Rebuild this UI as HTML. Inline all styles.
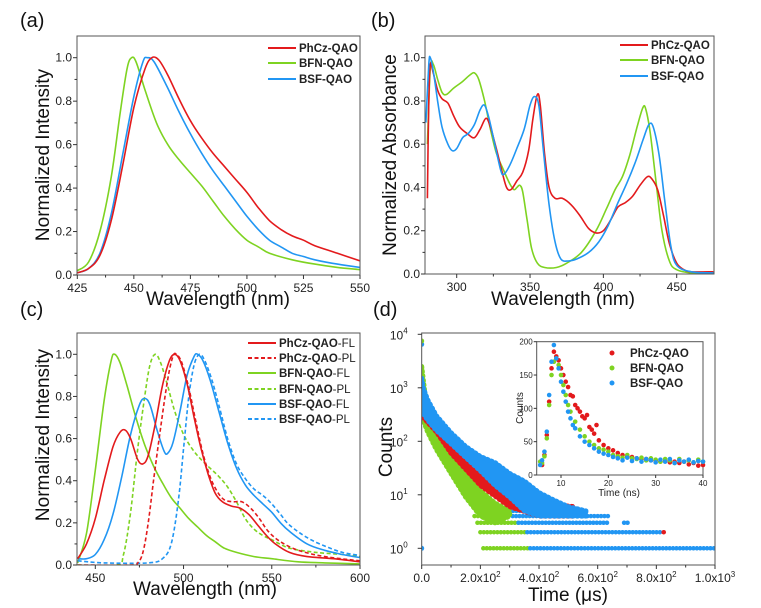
<!DOCTYPE html>
<html><head><meta charset="utf-8">
<style>
html,body{margin:0;padding:0;background:#fff;}
svg{display:block;font-family:"Liberation Sans",Arial,sans-serif;}
</style></head>
<body>
<svg id="fig" width="761" height="608" viewBox="0 0 761 608"></svg>
<script>
// ---------- Panel (a) data ----------
const aRedX=[425,430,435,440,445,450,455,458,461,465,470,475,480,485,490,495,500,505,510,515,520,525,530,540,550];
const aRedY=[0.01,0.03,0.09,0.25,0.5,0.77,0.95,1.0,0.99,0.92,0.81,0.71,0.63,0.56,0.5,0.44,0.38,0.31,0.25,0.21,0.18,0.16,0.135,0.1,0.065];
const aBlueX=[425,430,435,440,445,450,454,456,459,465,470,475,480,485,490,495,500,505,510,515,520,525,530,540,550];
const aBlueY=[0.01,0.03,0.1,0.28,0.55,0.82,0.98,1.0,0.98,0.86,0.75,0.65,0.56,0.48,0.41,0.34,0.27,0.21,0.16,0.13,0.1,0.085,0.07,0.05,0.035];
const aGreenX=[425,430,435,440,444,447,449,451,455,460,465,470,475,480,485,490,495,500,505,510,520,530,540,550];
const aGreenY=[0.02,0.06,0.2,0.45,0.75,0.95,1.0,0.98,0.85,0.7,0.6,0.53,0.47,0.41,0.34,0.27,0.21,0.16,0.13,0.1,0.07,0.05,0.035,0.025];
// ---------- Panel (b) data ----------
const bRedX=[280,281,282,284,287,290,294,298,302,307,312,316,320,323,327,331,334,337,341,345,349,352,355,357,360,363,367,372,378,384,390,395,400,405,410,415,420,425,430,433,437,441,445,450,455,460,475];
const bRedY=[0.35,0.8,0.97,0.93,0.85,0.81,0.79,0.73,0.68,0.65,0.63,0.67,0.72,0.68,0.58,0.47,0.4,0.39,0.43,0.47,0.57,0.72,0.83,0.78,0.55,0.4,0.35,0.35,0.32,0.27,0.21,0.19,0.2,0.25,0.31,0.33,0.36,0.41,0.45,0.44,0.39,0.27,0.14,0.05,0.02,0.01,0.01];
const bGreenX=[280,282,284,287,290,293,298,304,309,312,315,319,323,327,332,336,339,341,343,345,348,351,355,360,368,375,385,395,402,408,413,418,423,427,429,432,436,440,445,450,460,475];
const bGreenY=[0.6,0.95,0.97,0.9,0.84,0.83,0.86,0.89,0.92,0.93,0.9,0.8,0.67,0.56,0.48,0.42,0.39,0.4,0.41,0.38,0.25,0.12,0.05,0.03,0.03,0.05,0.1,0.2,0.3,0.39,0.45,0.55,0.68,0.77,0.76,0.65,0.42,0.2,0.06,0.02,0.005,0.005];
const bBlueX=[279,281,282,284,287,290,294,297,300,304,308,312,316,319,322,326,330,332,336,341,346,350,353,356,359,363,367,371,376,382,390,397,403,410,416,422,427,431,434,438,442,446,450,460,475];
const bBlueY=[0.7,0.97,1.0,0.94,0.8,0.68,0.6,0.57,0.58,0.63,0.65,0.69,0.76,0.78,0.72,0.6,0.48,0.46,0.5,0.58,0.67,0.78,0.82,0.78,0.58,0.32,0.15,0.07,0.06,0.07,0.1,0.15,0.22,0.33,0.42,0.52,0.62,0.69,0.68,0.55,0.33,0.13,0.04,0.01,0.005];
// ---------- Panel (c) data ----------
const cRedFLX=[440,445,450,455,460,464,467,470,474,477,480,484,488,492,495,498,502,506,510,514,518,522,527,532,537,542,547,552,560,570,585,600];
const cRedFLY=[0.03,0.1,0.22,0.4,0.56,0.63,0.64,0.6,0.5,0.48,0.52,0.67,0.85,0.97,1.0,0.97,0.86,0.7,0.55,0.43,0.34,0.3,0.28,0.27,0.24,0.19,0.14,0.1,0.06,0.04,0.03,0.015];
const cRedPLX=[440,470,474,477,480,483,487,491,494,496,499,503,507,511,515,519,523,528,533,538,543,548,555,565,580,600];
const cRedPLY=[0,0,0.01,0.06,0.2,0.4,0.65,0.88,0.99,1.0,0.96,0.84,0.68,0.53,0.42,0.35,0.31,0.3,0.3,0.27,0.22,0.16,0.11,0.07,0.04,0.02];
const cGreenFLX=[440,445,450,455,459,461,464,468,473,478,483,488,493,498,503,508,513,518,523,530,540,550,565,580,600];
const cGreenFLY=[0.01,0.15,0.45,0.78,0.97,1.0,0.96,0.85,0.7,0.57,0.47,0.39,0.32,0.27,0.22,0.18,0.14,0.11,0.08,0.06,0.04,0.03,0.015,0.01,0.005];
const cGreenPLX=[440,462,466,470,474,478,481,484,487,491,495,500,505,510,515,520,525,530,535,540,545,550,560,575,590,600];
const cGreenPLY=[0,0,0.05,0.25,0.55,0.8,0.95,1.0,0.96,0.85,0.73,0.62,0.55,0.5,0.46,0.42,0.37,0.3,0.22,0.17,0.14,0.12,0.08,0.06,0.05,0.04];
const cBlueFLX=[440,445,450,455,460,465,470,475,478,481,485,489,491,494,498,502,506,508,511,515,520,525,530,535,540,545,550,555,560,570,580,590,600];
const cBlueFLY=[0.03,0.03,0.05,0.12,0.24,0.42,0.62,0.76,0.79,0.76,0.64,0.54,0.53,0.58,0.73,0.9,0.99,1.0,0.97,0.88,0.73,0.58,0.46,0.38,0.33,0.29,0.25,0.2,0.16,0.1,0.07,0.05,0.035];
const cBluePLX=[440,455,480,488,493,497,500,503,506,509,512,516,520,525,530,535,540,545,550,555,560,570,580,590,600];
const cBluePLY=[0.02,0.01,0.01,0.03,0.1,0.3,0.55,0.8,0.95,1.0,0.97,0.88,0.76,0.6,0.48,0.41,0.36,0.33,0.29,0.24,0.19,0.13,0.09,0.06,0.045];
// ---------- Panel (d) data (decay bands, µs / counts) ----------
const dGreenT=[0,20,50,100,150,200,250,300];
const dGreenUp=[2500,300,150,60,25,12,7,5];
const dGreenLo=[300,150,70,25,9,4,3,4];
const dRedT=[0,50,100,200,300,400,520];
const dRedUp=[500,200,100,30,12,7,6];
const dRedLo=[300,150,60,15,6,4,4];
const dBlueT=[0,5,20,50,100,150,200,250,300,350,400,450,500,560];
const dBlueUp=[1500,1000,600,300,145,80,52,40,25,18,11,8,6,5];
const dBlueLo=[400,330,250,160,90,50,28,15,9,5,4,4,4,4];
// quantized count rows: [count, start µs, end µs]
const dGreenRows=[[1,210,370],[2,200,360],[3,190,330],[4,180,300]];
const dBlueRows=[[1,370,1000],[2,360,820],[3,330,640],[3,690,710],[4,310,640],[5,300,560]];
const dRedRows=[[2,825,832],[5,530,540]];
// inset (ns / counts)
const iRedT=[6,6.5,7,7.5,8,8.5,9,9.5,10,10.5,11,11.5,12,12.5,13,13.5,14,14.5,15,15.5,16,16.5,17,17.5,18,19,20,21,22,23,24,25,26,27,28,29,30,31,32,33,34,35,36,37,38,39,40];
const iRedC=[15,30,60,110,160,185,178,172,160,150,140,132,120,118,105,100,95,88,85,90,72,68,62,75,52,45,40,37,33,30,28,27,25,24,24,22,22,20,21,19,20,18,20,16,18,14,15];
const iGreenT=[5.6,6,6.5,7,7.5,8,8.5,9,9.5,10,10.5,11,11.5,12,13,14,15,16,17,18,19,20,21,22,23,24,25,26,27,28,29,30,31,32,33,34,35,36,37,38,39,40];
const iGreenC=[20,18,28,55,105,150,170,175,165,150,135,120,105,95,80,68,58,50,45,40,38,35,30,28,26,30,25,24,26,22,25,23,20,24,22,18,24,20,22,19,23,20];
const iBlueT=[5.6,6,6.5,7,7.5,8,8.5,9,9.5,10,10.5,11,11.5,12,12.5,13,14,15,16,17,18,19,20,21,22,23,24,25,26,27,28,29,30,31,32,33,34,35,36,37,38,39,40];
const iBlueC=[15,22,35,65,120,170,195,175,160,140,125,110,95,85,75,70,58,50,45,40,35,32,30,27,25,22,26,21,25,20,24,22,19,23,20,24,18,22,20,23,19,21,20];

const RED='#e31a1c', GREEN='#7ed321', BLUE='#2196f3';
const svg=document.getElementById('fig');
const NS='http://www.w3.org/2000/svg';
function mk(tag,attrs,parent){const e=document.createElementNS(NS,tag);for(const k in attrs)e.setAttribute(k,attrs[k]);(parent||svg).appendChild(e);return e;}
function txt(s,attrs,parent){const e=mk('text',attrs,parent);e.textContent=s;return e;}
function smooth(pts){let d='M'+pts[0][0].toFixed(1)+','+pts[0][1].toFixed(1);
 for(let i=0;i<pts.length-1;i++){const p0=pts[Math.max(0,i-1)],p1=pts[i],p2=pts[i+1],p3=pts[Math.min(pts.length-1,i+2)];
  const c1=[p1[0]+(p2[0]-p0[0])/6,p1[1]+(p2[1]-p0[1])/6],c2=[p2[0]-(p3[0]-p1[0])/6,p2[1]-(p3[1]-p1[1])/6];
  d+='C'+c1[0].toFixed(1)+','+c1[1].toFixed(1)+' '+c2[0].toFixed(1)+','+c2[1].toFixed(1)+' '+p2[0].toFixed(1)+','+p2[1].toFixed(1);}
 return d;}
function lin(d0,d1,r0,r1){return v=>r0+(v-d0)*(r1-r0)/(d1-d0);}

function frame(g,x0,y0,x1,y1){
 const r=mk('rect',{x:x0,y:y0,width:x1-x0,height:y1-y0,fill:'none',stroke:'#555','stroke-width':1},g);
 }
function linearAxes(g,P,xt,yt,xminor,yminor){
 xt.forEach(v=>{const x=P.sx(v);mk('line',{x1:x,x2:x,y1:P.y1,y2:P.y1+4,stroke:'#333'},g);
  const t=txt(String(v),{x:x,y:P.y1+17,'font-size':12,'text-anchor':'middle',fill:'#222'},g);
  });
 xminor.forEach(v=>{const x=P.sx(v);mk('line',{x1:x,x2:x,y1:P.y1,y2:P.y1+2.5,stroke:'#333'},g);});
 yt.forEach(v=>{const y=P.sy(v);mk('line',{x1:P.x0-4,x2:P.x0,y1:y,y2:y,stroke:'#333'},g);
  const t=txt(v.toFixed(1),{x:P.x0-5,y:y+4,'font-size':12,'text-anchor':'end',fill:'#222'},g);
  });
 yminor.forEach(v=>{const y=P.sy(v);mk('line',{x1:P.x0-2.5,x2:P.x0,y1:y,y2:y,stroke:'#333'},g);});
}
function curve(g,X,Y,P,color,name,dash){
 const pts=X.map((x,i)=>[P.sx(x),P.sy(Y[i])]);
 const p=mk('path',{d:smooth(pts),fill:'none',stroke:color,'stroke-width':1.6,'stroke-linejoin':'round'},g);
 if(dash)p.setAttribute('stroke-dasharray','4 2.5');
 }
function legendLine(g,x,y,color,label,suffix,dash){
 const l=mk('line',{x1:x,x2:x+28,y1:y,y2:y,stroke:color,'stroke-width':2},g);
 if(dash)l.setAttribute('stroke-dasharray','4 2.5');
 
 const t=txt(label,{x:x+31,y:y+4,'font-size':11.5,'font-weight':'bold',fill:'#222'},g);
 if(suffix){const s=mk('tspan',{'font-weight':'normal'},t);s.textContent=suffix;}
 }
function ytitle(g,s,x,y,name){const t=txt(s,{x:x,y:y,'font-size':19,'text-anchor':'middle',transform:`rotate(-90 ${x} ${y})`,fill:'#111'},g);
 }
function xtitle(g,s,x,y,name){const t=txt(s,{x:x,y:y,'font-size':19,'text-anchor':'middle',fill:'#111'},g);
 }
function plabel(s,x,y,name){const t=txt(s,{x:x,y:y,'font-size':20,fill:'#111'});
 }
function clip(id,P){const c=mk('clipPath',{id:id});mk('rect',{x:P.x0,y:P.y0,width:P.x1-P.x0,height:P.y1-P.y0},c);}

// ===== Panel (a) =====
(function(){
 const g=mk('g',{});
 const P={x0:77,x1:360,y0:36,y1:275};P.sx=lin(425,550,77.3,360);P.sy=lin(0,1,275,57.7);
 clip('ca',P);
 const cg=mk('g',{'clip-path':'url(#ca)'},g);
 curve(cg,aGreenX,aGreenY,P,GREEN,'bfn-qao-curve');
 curve(cg,aBlueX,aBlueY,P,BLUE,'bsf-qao-curve');
 curve(cg,aRedX,aRedY,P,RED,'phcz-qao-curve');
 frame(g,P.x0,P.y0,P.x1,P.y1);
 linearAxes(g,P,[425,450,475,500,525,550],[0,0.2,0.4,0.6,0.8,1.0],[437.5,462.5,487.5,512.5,537.5],[0.1,0.3,0.5,0.7,0.9]);
 legendLine(g,268,48,RED,'PhCz-QAO');legendLine(g,268,63,GREEN,'BFN-QAO');legendLine(g,268,79,BLUE,'BSF-QAO');
 ytitle(g,'Normalized Intensity',49,155,'y-axis-title');
 xtitle(g,'Wavelength (nm)',218,305,'x-axis-title');
 plabel('(a)',20,27,'panel-label-a');
})();
// ===== Panel (b) =====
(function(){
 const g=mk('g',{});
 const P={x0:425,x1:714,y0:36,y1:274};P.sx=lin(300,450,456.7,676.7);P.sy=lin(0,1,274,57.7);
 clip('cb',P);
 const cg=mk('g',{'clip-path':'url(#cb)'},g);
 curve(cg,bGreenX,bGreenY,P,GREEN,'bfn-qao-curve');
 curve(cg,bRedX,bRedY,P,RED,'phcz-qao-curve');
 curve(cg,bBlueX,bBlueY,P,BLUE,'bsf-qao-curve');
 frame(g,P.x0,P.y0,P.x1,P.y1);
 linearAxes(g,P,[300,350,400,450],[0,0.2,0.4,0.6,0.8,1.0],[325,375,425],[0.1,0.3,0.5,0.7,0.9]);
 legendLine(g,620,45,RED,'PhCz-QAO');legendLine(g,620,60,GREEN,'BFN-QAO');legendLine(g,620,76,BLUE,'BSF-QAO');
 ytitle(g,'Normalized Absorbance',396,155,'y-axis-title');
 xtitle(g,'Wavelength (nm)',563,305,'x-axis-title');
 plabel('(b)',371,27,'panel-label-b');
})();
// ===== Panel (c) =====
(function(){
 const g=mk('g',{});
 const P={x0:77,x1:360,y0:333,y1:565};P.sx=lin(450,600,95.3,360);P.sy=lin(0,1,565,354.3);
 clip('cc',P);
 const cg=mk('g',{'clip-path':'url(#cc)'},g);
 curve(cg,cGreenFLX,cGreenFLY,P,GREEN,'bfn-qao-fl-curve');
 curve(cg,cGreenPLX,cGreenPLY,P,GREEN,'bfn-qao-pl-curve',true);
 curve(cg,cBluePLX,cBluePLY,P,BLUE,'bsf-qao-pl-curve',true);
 curve(cg,cBlueFLX,cBlueFLY,P,BLUE,'bsf-qao-fl-curve');
 curve(cg,cRedPLX,cRedPLY,P,RED,'phcz-qao-pl-curve',true);
 curve(cg,cRedFLX,cRedFLY,P,RED,'phcz-qao-fl-curve');
 frame(g,P.x0,P.y0,P.x1,P.y1);
 linearAxes(g,P,[450,500,550,600],[0,0.2,0.4,0.6,0.8,1.0],[475,525,575],[0.1,0.3,0.5,0.7,0.9]);
 const ly=[343,358,373,389,404,419];
 legendLine(g,248,ly[0],RED,'PhCz-QAO','-FL');legendLine(g,248,ly[1],RED,'PhCz-QAO','-PL',true);
 legendLine(g,248,ly[2],GREEN,'BFN-QAO','-FL');legendLine(g,248,ly[3],GREEN,'BFN-QAO','-PL',true);
 legendLine(g,248,ly[4],BLUE,'BSF-QAO','-FL');legendLine(g,248,ly[5],BLUE,'BSF-QAO','-PL',true);
 ytitle(g,'Normalized Intensity',49,435,'y-axis-title');
 xtitle(g,'Wavelength (nm)',205,595,'x-axis-title');
 plabel('(c)',20,316,'panel-label-c');
})();
// ===== Panel (d) =====
(function(){
 const g=mk('g',{});
 const P={x0:421.7,x1:715,y0:333,y1:565};P.sx=lin(0,1000,421.7,715);
 const ly=lin(0,4,548.3,334.3);P.sy=v=>ly(Math.log10(v));
 clip('cd',P);
 const cg=mk('g',{'clip-path':'url(#cd)'},g);
 function band(T,U,L,color,name){
  const top=T.map((t,i)=>[P.sx(t),P.sy(U[i])]);const bot=T.map((t,i)=>[P.sx(t),P.sy(L[i])]).reverse();
  const pts=top.concat(bot);
  const p=mk('polygon',{points:pts.map(q=>q[0].toFixed(1)+','+q[1].toFixed(1)).join(' '),fill:color,stroke:color,'stroke-width':5,'stroke-linejoin':'round','stroke-dasharray':'1 3.5','stroke-linecap':'round'},cg);
  }
 function rows(R,color,name){R.forEach(r=>{const y=P.sy(r[0]);
  const l=mk('line',{x1:P.sx(r[1]),x2:P.sx(r[2]),y1:y,y2:y,stroke:color,'stroke-width':4.5,'stroke-linecap':'round','stroke-dasharray':'0.1 3.3'},cg);
  });}
 rows(dGreenRows,GREEN,'bfn-qao-count-row');
 rows(dBlueRows,BLUE,'bsf-qao-count-row');
 rows(dRedRows,RED,'phcz-qao-count-row');
 band(dGreenT,dGreenUp,dGreenLo,GREEN,'bfn-qao-decay');
 band(dRedT,dRedUp,dRedLo,RED,'phcz-qao-decay');
 band(dBlueT,dBlueUp,dBlueLo,BLUE,'bsf-qao-decay');
 [[6500,BLUE],[7500,GREEN],[1,BLUE]].forEach(o=>{const c=mk('circle',{cx:P.sx(0),cy:P.sy(o[0]),r:2.5,fill:o[1]},cg);
  });
 frame(g,P.x0,P.y0,P.x1,P.y1);
 // x ticks
 const xt=[0,200,400,600,800,1000],xl=['0.0','2.0x10','4.0x10','6.0x10','8.0x10','1.0x10'],xe=['','2','2','2','2','3'];
 xt.forEach((v,i)=>{const x=P.sx(v);mk('line',{x1:x,x2:x,y1:P.y1,y2:P.y1+4,stroke:'#333'},g);
  const t=txt(xl[i],{x:x,y:P.y1+17,'font-size':12,'text-anchor':'middle',fill:'#222'},g);
  if(xe[i]){const s=mk('tspan',{'font-size':8,dy:-5},t);s.textContent=xe[i];}
  });
 [100,300,500,700,900].forEach(v=>{const x=P.sx(v);mk('line',{x1:x,x2:x,y1:P.y1,y2:P.y1+2.5,stroke:'#333'},g);});
 [0,1,2,3,4].forEach(e=>{const y=P.sy(Math.pow(10,e));mk('line',{x1:P.x0-4,x2:P.x0,y1:y,y2:y,stroke:'#333'},g);
  const t=txt('10',{x:P.x0-14,y:y+5,'font-size':12,'text-anchor':'end',fill:'#222'},g);
  const s=mk('tspan',{'font-size':8,dy:-6},t);s.textContent=String(e);
  });
 ytitle(g,'Counts',392,447,'y-axis-title');
 xtitle(g,'Time (μs)',568,601,'x-axis-title');
 plabel('(d)',373,316,'panel-label-d');
 // inset
 const I={x0:536.7,x1:703,y0:341.7,y1:475};I.sx=lin(10,40,561,703);I.sy=lin(0,200,475,341.7);
 const ib=mk('rect',{x:I.x0,y:I.y0,width:I.x1-I.x0,height:I.y1-I.y0,fill:'#fff',stroke:'#555'},g);
 
 function dots(T,C,color,name){T.forEach((t,i)=>{const c=mk('circle',{cx:I.sx(t),cy:I.sy(C[i]),r:2.3,fill:color},g);
  });}
 dots(iRedT,iRedC,RED,'inset-phcz-point');dots(iGreenT,iGreenC,GREEN,'inset-bfn-point');dots(iBlueT,iBlueC,BLUE,'inset-bsf-point');
 [10,20,30,40].forEach(v=>{const x=I.sx(v);mk('line',{x1:x,x2:x,y1:I.y1,y2:I.y1+3,stroke:'#333'},g);
  const t=txt(String(v),{x:x,y:I.y1+11,'font-size':8,'text-anchor':'middle',fill:'#222'},g);
  });
 [0,50,100,150,200].forEach(v=>{const y=I.sy(v);mk('line',{x1:I.x0-3,x2:I.x0,y1:y,y2:y,stroke:'#333'},g);
  const t=txt(String(v),{x:I.x0-4,y:y+3,'font-size':8,'text-anchor':'end',fill:'#222'},g);
  });
 const it=txt('Time (ns)',{x:619,y:496,'font-size':10,'text-anchor':'middle',fill:'#222'},g);
 
 const iy=txt('Counts',{x:523,y:408,'font-size':10,'text-anchor':'middle',transform:'rotate(-90 523 408)',fill:'#222'},g);
 
 [[353,RED,'PhCz-QAO'],[368,GREEN,'BFN-QAO'],[383,BLUE,'BSF-QAO']].forEach(e=>{
  const c=mk('circle',{cx:612,cy:e[0],r:2.5,fill:e[1]},g);
  const t=txt(e[2],{x:630,y:e[0]+4,'font-size':11.5,'font-weight':'bold',fill:'#222'},g);
  });
})();
</script>
</body></html>
